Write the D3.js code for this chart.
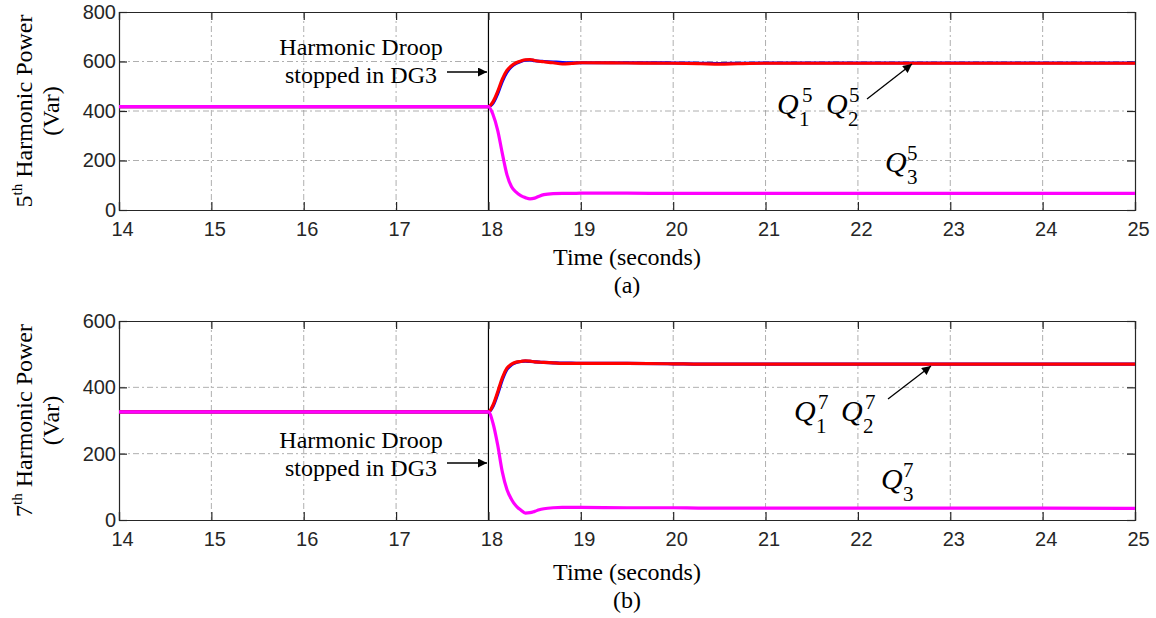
<!DOCTYPE html>
<html><head><meta charset="utf-8">
<script src="https://cdn.jsdelivr.net/npm/d3@7"></script>
<style>body{margin:0;background:#fff}svg{display:block}</style>
</head><body>
<svg id="chart" width="1156" height="618"></svg>
<script>
// ---- data ----
const timeTicks = [14,15,16,17,18,19,20,21,22,23,24,25];
const yTicks5 = [0,200,400,600,800];
const yTicks7 = [0,200,400,600];
const time = [14,18,18.05,18.1,18.15,18.2,18.25,18.3,18.35,18.4,18.45,18.5,18.55,18.6,18.7,18.8,18.9,19,19.5,20,20.3,20.5,20.7,21,22,23,24,25];
// 5th harmonic (Var)
const q1_5 = [418,418,432,470,520,557,579,592,600,605,606,603,601,600,598,596,595,595,595,594,593,592,593,594,594,594,594,594];
const q2_5 = [418,418,438,479,529,564,583,595,602,607,608,604,601,599,595,590,592,595,594,593,591,589,591,593,593,593,593,593];
const q3_5 = [418,418,385,322,229,143,94,72,58,50,45,48,56,62,66,67,67,68,68,67,67,67,67,67,67,67,67,67];
// 7th harmonic (Var)
const q1_7 = [326,326,343,380,423,454,468,475,478,479,478,477,476,475,474,473,473,472,472,471,470,470,470,470,470,470,470,470];
const q2_7 = [326,326,347,386,429,458,470,476,478,480,479,477,476,475,474,472,472,472,472,471,470,470,470,470,470,470,470,470];
const q3_7 = [326,326,291,226,145,92,62,42,30,21,22,26,31,34,37,38,38,38,37,37,36,36,36,36,36,36,36,35];

const svg = d3.select("#chart");
const x = d3.scaleLinear().domain([14,25]).range([119,1135]);
const serif = "'Liberation Serif','Times New Roman',serif";
const sans = "'Liberation Sans',Arial,sans-serif";
const axisCol = "#262626";
const SF = 24;

svg.append("defs").append("marker").attr("id","ah").attr("viewBox","0 0 10 10")
  .attr("refX",10).attr("refY",5).attr("markerWidth",14).attr("markerHeight",9)
  .attr("markerUnits","userSpaceOnUse").attr("orient","auto")
  .append("path").attr("d","M0,0L10,5L0,10Z").attr("fill","#000");

function panel(cfg){
  const y = d3.scaleLinear().domain(cfg.domain).range([cfg.bottom,cfg.top]);
  const g = svg.append("g");
  // grid
  g.selectAll(".vg").data(timeTicks.filter(t=>t>14&&t<25&&t!==18)).enter().append("line")
    .attr("x1",d=>x(d)).attr("x2",d=>x(d)).attr("y1",cfg.top).attr("y2",cfg.bottom)
    .attr("stroke","#9a9a9a").attr("stroke-width",0.8).attr("stroke-dasharray","6,3,2,3");
  g.selectAll(".hg").data(cfg.ticks.filter(v=>v>cfg.domain[0]&&v<cfg.domain[1])).enter().append("line")
    .attr("x1",x(14)).attr("x2",x(25)).attr("y1",d=>y(d)).attr("y2",d=>y(d))
    .attr("stroke","#9a9a9a").attr("stroke-width",0.8).attr("stroke-dasharray","6,3,2,3");
  // event line
  g.append("line").attr("x1",x(18)).attr("x2",x(18)).attr("y1",cfg.top).attr("y2",cfg.bottom)
    .attr("stroke","#000").attr("stroke-width",1.2);
  // axes
  const xb = d3.axisBottom(x).tickValues(timeTicks).tickSize(-8).tickPadding(12).tickFormat(d3.format("d"));
  const xt = d3.axisTop(x).tickValues(timeTicks).tickSize(-8).tickFormat("");
  const yl = d3.axisLeft(y).tickValues(cfg.ticks).tickSize(-8).tickPadding(3).tickFormat(d3.format("d"));
  const yr = d3.axisRight(y).tickValues(cfg.ticks).tickSize(-8).tickFormat("");
  [[xb,`translate(0,${cfg.bottom})`,true],[xt,`translate(0,${cfg.top})`,false],[yl,`translate(${x(14)},0)`,false],[yr,`translate(${x(25)},0)`,false]]
   .forEach(([ax,tr,isX])=>{
     const a = g.append("g").attr("transform",tr).call(ax);
     a.select(".domain").attr("stroke",axisCol).attr("stroke-width",1.2);
     a.selectAll(".tick line").attr("stroke",axisCol).attr("stroke-width",1.2);
     a.selectAll("text").attr("font-family",sans).attr("font-size",20).attr("fill",axisCol);
     if(isX) a.selectAll("text").attr("dx",3);
   });
  // lines
  const line = d3.line().x((d,i)=>x(time[i])).y(d=>y(d)).curve(d3.curveMonotoneX);
  [[cfg.s1,"#0000ff"],[cfg.s2,"#ff0000"],[cfg.s3,"#ff00ff"]].forEach(([s,c])=>{
    g.append("path").datum(s).attr("d",line).attr("fill","none").attr("stroke",c).attr("stroke-width",3.2).attr("stroke-linejoin","round");
  });
  // y label
  const yl1 = g.append("text").attr("transform",`translate(${cfg.ylx},${(cfg.top+cfg.bottom)/2}) rotate(-90)`)
    .attr("text-anchor","middle").attr("font-family",serif).attr("font-size",SF).attr("fill","#000");
  yl1.append("tspan").text(cfg.order);
  yl1.append("tspan").attr("font-size",15).attr("dy",-10).text("th");
  yl1.append("tspan").attr("dy",10).text(" Harmonic Power");
  g.append("text").attr("transform",`translate(${cfg.ylx+27},${(cfg.top+cfg.bottom)/2}) rotate(-90)`)
    .attr("text-anchor","middle").attr("font-family",serif).attr("font-size",SF).text("(Var)");
  // x label
  const cx = (x(14)+x(25))/2;
  g.append("text").attr("x",cx).attr("y",cfg.xlab).attr("text-anchor","middle").attr("font-family",serif).attr("font-size",SF).text("Time (seconds)");
  g.append("text").attr("x",cx).attr("y",cfg.xlab+28).attr("text-anchor","middle").attr("font-family",serif).attr("font-size",SF).text(cfg.cap);
  // droop annotation
  g.append("text").attr("x",361).attr("y",cfg.dy1).attr("text-anchor","middle").attr("font-family",serif).attr("font-size",SF).text("Harmonic Droop");
  g.append("text").attr("x",361).attr("y",cfg.dy1+28).attr("text-anchor","middle").attr("font-family",serif).attr("font-size",SF).text("stopped in DG3");
  g.append("line").attr("x1",447).attr("x2",487).attr("y1",cfg.ay).attr("y2",cfg.ay).attr("stroke","#000").attr("stroke-width",1.3).attr("marker-end","url(#ah)");
  // Q labels (one text element each: Q with superscript order and subscript index)
  cfg.q.forEach(q=>{
    const t = g.append("text").attr("x",q.x).attr("y",q.y).attr("font-family",serif).attr("font-size",30);
    t.append("tspan").attr("font-style","italic").text("Q");
    t.append("tspan").attr("x",q.x+q.sup).attr("dy",-12).attr("font-size",21).text(cfg.order);
    t.append("tspan").attr("x",q.x+q.sub).attr("dy",24).attr("font-size",21).text(q.n);
  });
  g.append("line").attr("x1",cfg.qa[0]).attr("y1",cfg.qa[1]).attr("x2",cfg.qa[2]).attr("y2",cfg.qa[3]).attr("stroke","#000").attr("stroke-width",1.3).attr("marker-end","url(#ah)");
}

panel({domain:[0,800],ticks:yTicks5,top:12,bottom:210,s1:q1_5,s2:q2_5,s3:q3_5,order:"5",ylx:32,xlab:265,cap:"(a)",dy1:55,ay:72,
  q:[{x:777,y:114,n:"1",sup:25,sub:22},{x:826,y:114,n:"2",sup:23,sub:22},{x:885,y:172,n:"3",sup:22,sub:22}],qa:[867,99,912,64]});
panel({domain:[0,600],ticks:yTicks7,top:321,bottom:520,s1:q1_7,s2:q2_7,s3:q3_7,order:"7",ylx:32,xlab:580,cap:"(b)",dy1:448,ay:463,
  q:[{x:794,y:421,n:"1",sup:24,sub:22},{x:841,y:421,n:"2",sup:24,sub:22},{x:881,y:489,n:"3",sup:22,sub:22}],qa:[888,399,931,366]});
</script>
</body></html>
